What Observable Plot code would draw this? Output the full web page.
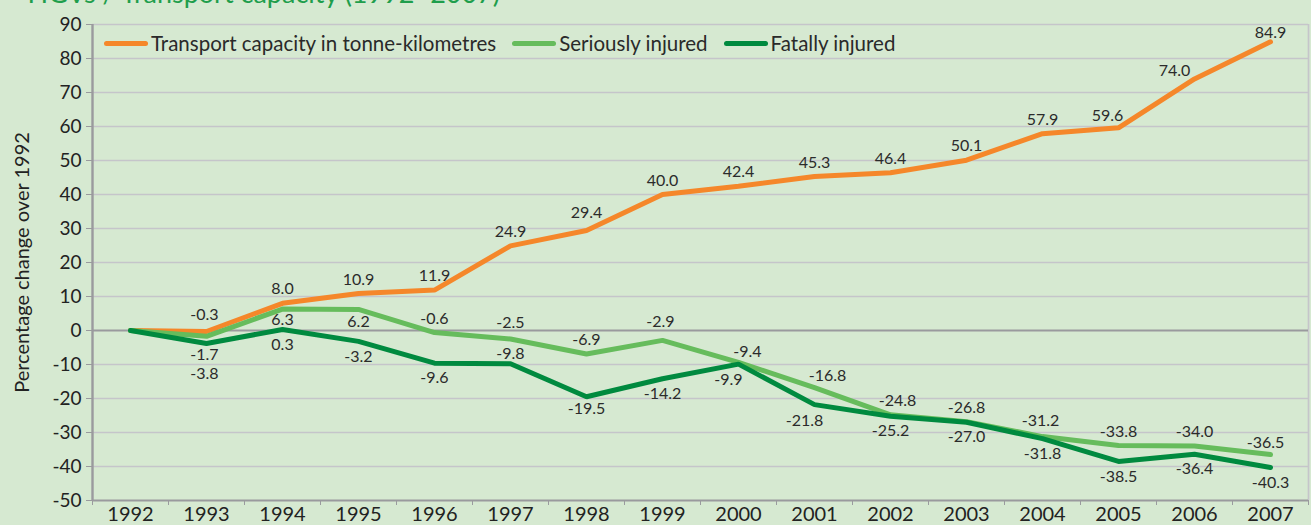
<!DOCTYPE html>
<html>
<head>
<meta charset="utf-8">
<script src="https://cdn.jsdelivr.net/npm/d3@7"></script>
<script src="https://cdn.jsdelivr.net/npm/@observablehq/plot@0.6"></script>
<style>
  html, body { margin: 0; padding: 0; background: #d6e9d1; }
  #wrap { position: relative; width: 1311px; height: 525px; overflow: hidden; background: #d6e9d1; font-family: Lato, "Open Sans", sans-serif; }
  #title { position: absolute; top: -21px; right: 811px; white-space: nowrap; color: #1f9e4c; font-size: 27px; line-height: 27px; }
  #legend { position: absolute; top: 31px; left: 104px; display: flex; align-items: center; font-size: 20.5px; color: #2a2a2a; }
  #legend .item { display: flex; align-items: center; margin-right: 16px; }
  #legend .sw { display: inline-block; width: 44px; height: 5px; border-radius: 3px; margin-right: 3px; }
</style>
</head>
<body>
<div id="wrap">
  <div id="title">HGVs / Transport capacity (1992–2007)</div>
  <div id="chart"></div>
  <div id="legend"></div>
</div>
<script>
const years = [1992,1993,1994,1995,1996,1997,1998,1999,2000,2001,2002,2003,2004,2005,2006,2007];
const transportCapacity = [0,-0.3,8.0,10.9,11.9,24.9,29.4,40.0,42.4,45.3,46.4,50.1,57.9,59.6,74.0,84.9];
const seriouslyInjured = [0,-1.7,6.3,6.2,-0.6,-2.5,-6.9,-2.9,-9.4,-16.8,-24.8,-26.8,-31.2,-33.8,-34.0,-36.5];
const fatallyInjured = [0,-3.8,0.3,-3.2,-9.6,-9.8,-19.5,-14.2,-9.9,-21.8,-25.2,-27.0,-31.8,-38.5,-36.4,-40.3];
const seriesNames = ["Transport capacity in tonne-kilometres", "Seriously injured", "Fatally injured"];
const seriesColors = ["#f5872a", "#66bc5c", "#008a3f"];
const yTicks = [-50,-40,-30,-20,-10,0,10,20,30,40,50,60,70,80,90];

// label placement: default offset per series, plus a few overrides to avoid overlaps
const defaultOffset = {0: [0, -14], 1: [0, -14], 2: [0, 15]};
const offsetOverrides = {
  "0|1993": [-2, -17], "0|1998": [0, -18], "0|2005": [-11, -12], "0|2006": [-20, -8], "0|2007": [0, -9],
  "1|1993": [-2, 19], "1|1994": [0, 11], "1|1995": [0, 12], "1|1997": [0, -16], "1|1999": [-2, -18],
  "1|2000": [9, -11], "1|2001": [13, -12], "1|2002": [7, -14], "1|2004": [-2, -16], "1|2007": [-5, -12],
  "2|1993": [-2, 30], "2|1996": [0, 15], "2|1997": [0, -10], "2|1998": [0, 12], "2|2000": [-10, 16], "2|2001": [-10, 16]
};

const allSeries = [transportCapacity, seriouslyInjured, fatallyInjured];
const rows = [];
allSeries.forEach((vals, s) => {
  vals.forEach((v, i) => {
    const key = s + "|" + years[i];
    const off = offsetOverrides[key] || defaultOffset[s];
    rows.push({series: s, year: years[i], value: v, dx: off[0], dy: off[1]});
  });
});
const labelRows = rows.filter(d => d.year !== 1992);

const halfYears = years.concat([2008]).map(y => y - 0.5);
const gridColor = "#c5c5ca";
const axisColor = "#9a9a9e";

const labelMarks = labelRows.map(d => Plot.text([d], {
  x: "year", y: "value", text: r => r.value.toFixed(1),
  dx: d.dx, dy: d.dy, fontSize: 16, fill: "#2b2b2b", textAnchor: "middle"
}));

const chart = Plot.plot({
  width: 1311,
  height: 525,
  marginLeft: 92,
  marginRight: 3,
  marginTop: 24,
  marginBottom: 25,
  style: {background: "transparent", fontFamily: "Lato, 'Open Sans', sans-serif", color: "#222"},
  x: {type: "linear", domain: [1991.5, 2007.5]},
  y: {domain: [-50, 90]},
  marks: [
    Plot.ruleY(yTicks.filter(v => v !== -50 && v !== 0), {stroke: gridColor, strokeWidth: 1.7}),
    Plot.ruleX([2007.5], {stroke: gridColor, strokeWidth: 1.7}),
    Plot.ruleY([0], {stroke: axisColor, strokeWidth: 1.8}),
    Plot.ruleY([-50], {stroke: axisColor, strokeWidth: 2.2}),
    Plot.ruleX([1991.5], {stroke: axisColor, strokeWidth: 2.4}),
    Plot.axisX(halfYears, {tickSize: 5, tickFormat: () => "", stroke: axisColor, label: null}),
    Plot.axisX(years, {tickSize: 0, tickPadding: 6, tickFormat: d => String(d), fontSize: 20, fill: "#222", label: null}),
    Plot.axisY(yTicks, {tickSize: 6, tickPadding: 5, tickFormat: d => String(d), fontSize: 19, fill: "#222", stroke: axisColor, label: null}),
    Plot.text(["Percentage change over 1992"], {frameAnchor: "left", textAnchor: "middle", rotate: -90, dx: -70, fontSize: 20, fill: "#222"}),
    Plot.line(rows, {x: "year", y: "value", z: "series", stroke: d => seriesColors[d.series], strokeWidth: 5, strokeLinejoin: "miter", strokeLinecap: "round"}),
    ...labelMarks
  ]
});
document.getElementById("chart").appendChild(chart);

const legend = document.getElementById("legend");
seriesNames.forEach((name, i) => {
  const item = document.createElement("div");
  item.className = "item";
  const sw = document.createElement("span");
  sw.className = "sw";
  sw.style.background = seriesColors[i];
  const t = document.createElement("span");
  t.textContent = name;
  item.appendChild(sw);
  item.appendChild(t);
  legend.appendChild(item);
});
</script>
</body>
</html>
